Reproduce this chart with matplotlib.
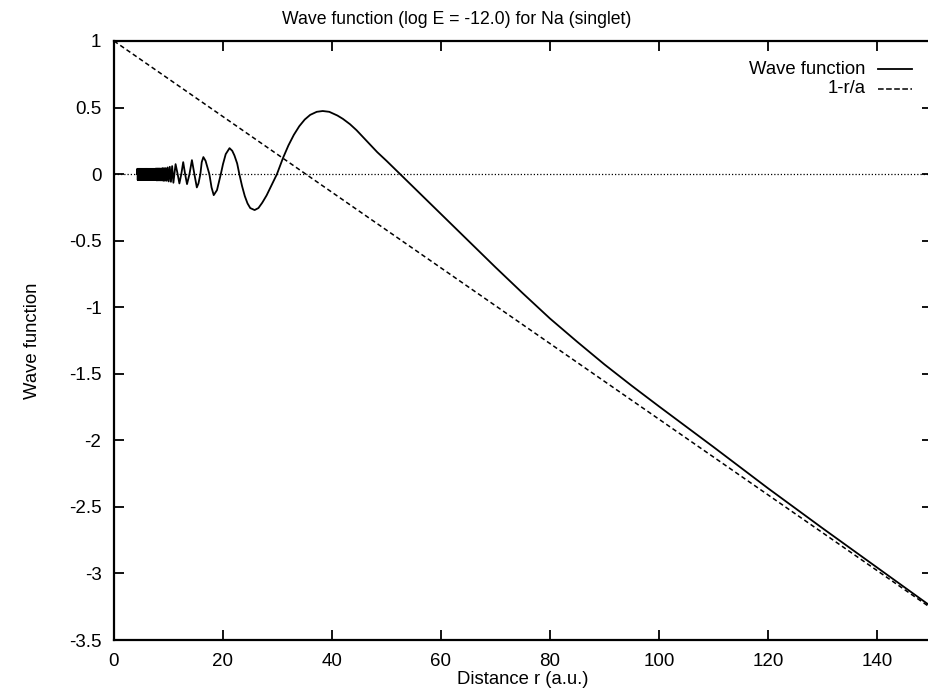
import matplotlib
matplotlib.use("Agg")
import matplotlib.pyplot as plt

plt.rcParams['font.family'] = ['Liberation Sans', 'DejaVu Sans']

# Data
# 1 - r/a straight line (end points)
line_r = [0.0, 150.0]
line_y = [1.0, -3.262]

# wave function: dense inner oscillation (alternating extrema)
inner_r = [4.20,
           4.28, 4.36, 4.44, 4.52, 4.60, 4.68, 4.76, 4.84, 4.92, 5.00,
           5.08, 5.16, 5.24, 5.32, 5.40, 5.48, 5.56, 5.64, 5.72, 5.80,
           5.88, 5.96, 6.04, 6.12, 6.20, 6.29, 6.38, 6.47, 6.56, 6.65,
           6.74, 6.83, 6.92, 7.01, 7.10, 7.20, 7.30, 7.40, 7.50, 7.60,
           7.70, 7.81, 7.92, 8.03, 8.14, 8.26, 8.38, 8.50, 8.63, 8.76,
           8.90, 9.04, 9.19, 9.34, 9.50, 9.67, 9.85, 10.04, 10.24, 10.45,
           10.67, 10.90, 11.30]
inner_y = [0.0,
           0.04, -0.045, 0.04, -0.045, 0.04, -0.045, 0.04, -0.045, 0.04, -0.045,
           0.04, -0.045, 0.04, -0.045, 0.04, -0.045, 0.04, -0.045, 0.04, -0.045,
           0.04, -0.045, 0.04, -0.045, 0.04, -0.045, 0.04, -0.045, 0.04, -0.045,
           0.04, -0.045, 0.04, -0.045, 0.04, -0.045, 0.04, -0.045, 0.04, -0.045,
           0.042, -0.047, 0.042, -0.047, 0.042, -0.047, 0.042, -0.047, 0.042, -0.047,
           0.045, -0.05, 0.045, -0.05, 0.045, -0.05, 0.05, -0.055, 0.055, -0.058,
           0.06, -0.065, 0.075]

# wave function: resolved part
outer_r = [11.68, 12.0, 12.35, 12.7, 13.05, 13.4, 13.85, 14.3, 14.75, 15.2, 15.5,
           15.85, 16.1, 16.4, 16.8, 17.5, 17.9, 18.3, 18.9, 19.6, 20.0, 20.5,
           21.2, 21.7, 22.1, 22.6, 23.0, 23.5, 24.0, 24.5, 25.0, 25.8, 26.5,
           27.2, 28.0, 29.0, 29.9, 31.0, 32.0,
           33.0, 34.0, 35.0, 36.0, 37.2, 38.3, 39.5, 41.0, 42.0, 43.3, 44.5, 46.0,
           48.3, 50.0, 52.5, 55.0, 60.0, 65.0, 70.0, 75.0, 80.0, 85.0, 90.0, 95.0,
           100.0, 110.0, 120.0, 130.0, 140.0, 150.0]
outer_y = [0.0, -0.07, 0.0, 0.09, 0.0, -0.075, 0.0, 0.105, 0.0, -0.1, -0.07,
           0.0, 0.09, 0.128, 0.1, 0.0, -0.1, -0.158, -0.12, 0.0, 0.075, 0.15,
           0.195, 0.175, 0.14, 0.08, 0.0, -0.09, -0.165, -0.22, -0.255, -0.27, -0.255,
           -0.215, -0.16, -0.075, 0.0, 0.12, 0.215,
           0.295, 0.36, 0.41, 0.445, 0.468, 0.474, 0.468, 0.44, 0.415, 0.375, 0.33, 0.265,
           0.165, 0.10, 0.0, -0.10, -0.30, -0.50, -0.70, -0.895, -1.085, -1.26, -1.43, -1.59,
           -1.745, -2.05, -2.36, -2.66, -2.955, -3.25]

wave_r = inner_r + outer_r
wave_y = inner_y + outer_y

xticks = [0, 20, 40, 60, 80, 100, 120, 140]
yticks = [1, 0.5, 0, -0.5, -1, -1.5, -2, -2.5, -3, -3.5]
ytick_labels = ['1', '0.5', '0', '-0.5', '-1', '-1.5', '-2', '-2.5', '-3', '-3.5']

fig = plt.figure(figsize=(9.29, 6.89), dpi=100)
ax = fig.add_axes([0.1227, 0.0711, 0.88, 0.8694])

ax.axhline(0, color='black', lw=0.9, linestyle=(0, (1, 1.6)))
wave_line, = ax.plot(wave_r, wave_y, color='black', lw=1.3)
dash_line, = ax.plot(line_r, line_y, color='black', lw=1.1, linestyle=(0, (3, 2)))

ax.set_xlim(0, 150)
ax.set_ylim(-3.5, 1)
ax.set_xticks(xticks)
ax.set_yticks(yticks)
ax.set_yticklabels(ytick_labels)
ax.tick_params(direction='in', length=7, width=1.3, top=True, right=True,
               labelsize=13.5, pad=9)
for s in ax.spines.values():
    s.set_linewidth(1.6)

# gnuplot centres the title on the whole canvas
fig.text(0.492, 0.971, 'Wave function (log E = -12.0) for Na (singlet)',
         ha='center', va='center', fontsize=12.7)
ax.set_xlabel('Distance r (a.u.)', fontsize=13.3, labelpad=1)
ax.set_ylabel('Wave function', fontsize=13.3, labelpad=20)

# gnuplot-style key: right-aligned text, sample line to the right
key_text = ['Wave function', '1-r/a']
key_y = [0.953, 0.92]
for txt, yk, src in zip(key_text, key_y, [wave_line, dash_line]):
    ax.text(0.919, yk, txt, transform=ax.transAxes, ha='right', va='center', fontsize=13.3)
    ax.plot([0.935, 0.976], [yk, yk], transform=ax.transAxes, color='black',
            lw=src.get_linewidth(), linestyle=src.get_linestyle())

fig.savefig('out.png', dpi=100)
